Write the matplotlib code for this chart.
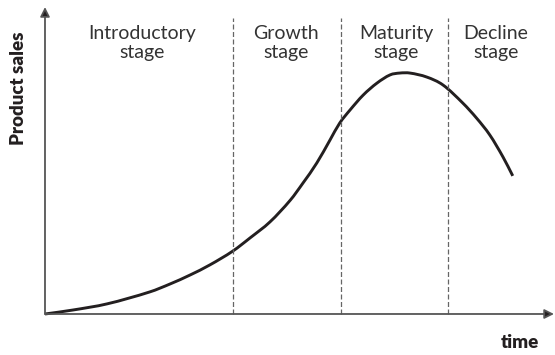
import matplotlib
matplotlib.use("Agg")
import matplotlib.pyplot as plt
from matplotlib.path import Path
from matplotlib.patches import PathPatch

# product life cycle curve (time 0-100, sales 0-100)
time = [0.0, 5.5, 12.2, 20.6, 24.6, 28.5, 32.4, 36.9, 40.3, 44.2, 48.2,
        50.7, 53.4, 56.0, 57.9, 59.9, 62.5, 65.2, 67.8, 69.7, 71.7, 75.0,
        78.2, 82.1, 84.8, 87.4, 90.0, 91.9]
sales = [0.0, 1.3, 3.3, 7.2, 9.8, 12.7, 16.0, 20.5, 24.8, 30.0, 37.1,
         42.7, 49.2, 56.7, 62.2, 66.4, 71.3, 75.2, 77.9, 78.5, 78.5, 77.2,
         74.6, 68.7, 63.8, 58.3, 51.1, 45.0]

# stage boundaries and labels
boundaries = [36.9, 58.2, 79.2]
stage_names = ["Introductory\nstage", "Growth\nstage", "Maturity\nstage", "Decline\nstage"]
stage_centers = [19.1, 47.3, 69.0, 88.6]


def smooth_path(xs, ys):
    """
    Bezier path through the given points (hermite tangents in x)
    """
    n = len(xs)
    slopes = []
    for i in range(n):
        a = max(i - 1, 0)
        b = min(i + 1, n - 1)
        slopes.append((ys[b] - ys[a]) / (xs[b] - xs[a]))
    verts = [(xs[0], ys[0])]
    codes = [Path.MOVETO]
    for i in range(n - 1):
        h = xs[i + 1] - xs[i]
        c1 = (xs[i] + h / 3, ys[i] + slopes[i] * h / 3)
        c2 = (xs[i + 1] - h / 3, ys[i + 1] - slopes[i + 1] * h / 3)
        verts += [c1, c2, (xs[i + 1], ys[i + 1])]
        codes += [Path.CURVE4] * 3
    return Path(verts, codes)


plt.rcParams['font.family'] = ['Lato', 'DejaVu Sans']

fig = plt.figure(figsize=(5.55, 3.55), dpi=100)
ax = fig.add_axes([0, 0, 1, 1])
ax.set_xlim(-8.84, 100.2)
ax.set_ylim(-13.36, 102.3)
ax.axis('off')

axis_col = '#555555'
# axes with arrows
ax.annotate('', xy=(100, 0), xytext=(0, 0),
            arrowprops=dict(arrowstyle='-|>', color=axis_col, lw=1.3,
                            mutation_scale=14, shrinkA=0, shrinkB=0,
                            fc='#231f20'))
ax.annotate('', xy=(0, 100), xytext=(0, 0),
            arrowprops=dict(arrowstyle='-|>', color=axis_col, lw=1.3,
                            mutation_scale=14, shrinkA=0, shrinkB=0,
                            fc='#231f20'))

for b in boundaries:
    ax.plot([b, b], [0, 96.4], color='#666666', lw=0.9, dashes=(4, 2))

ax.add_patch(PathPatch(smooth_path(time, sales), fc='none', ec='#231f20',
                       lw=2.1, capstyle='butt', joinstyle='round'))

for name, cx in zip(stage_names, stage_centers):
    ax.text(cx, 88.3, name, ha='center', va='center', fontsize=14,
            color='#333333', linespacing=1.1)

ax.text(-5.3, 73.6, 'Product sales', rotation=90, ha='center', va='center',
        fontsize=13.5, fontweight='heavy', color='#231f20')
ax.text(93.3, -9.4, 'time', ha='center', va='center', fontsize=13.5,
        fontweight='heavy', color='#231f20')

fig.savefig('out.png', dpi=100)
